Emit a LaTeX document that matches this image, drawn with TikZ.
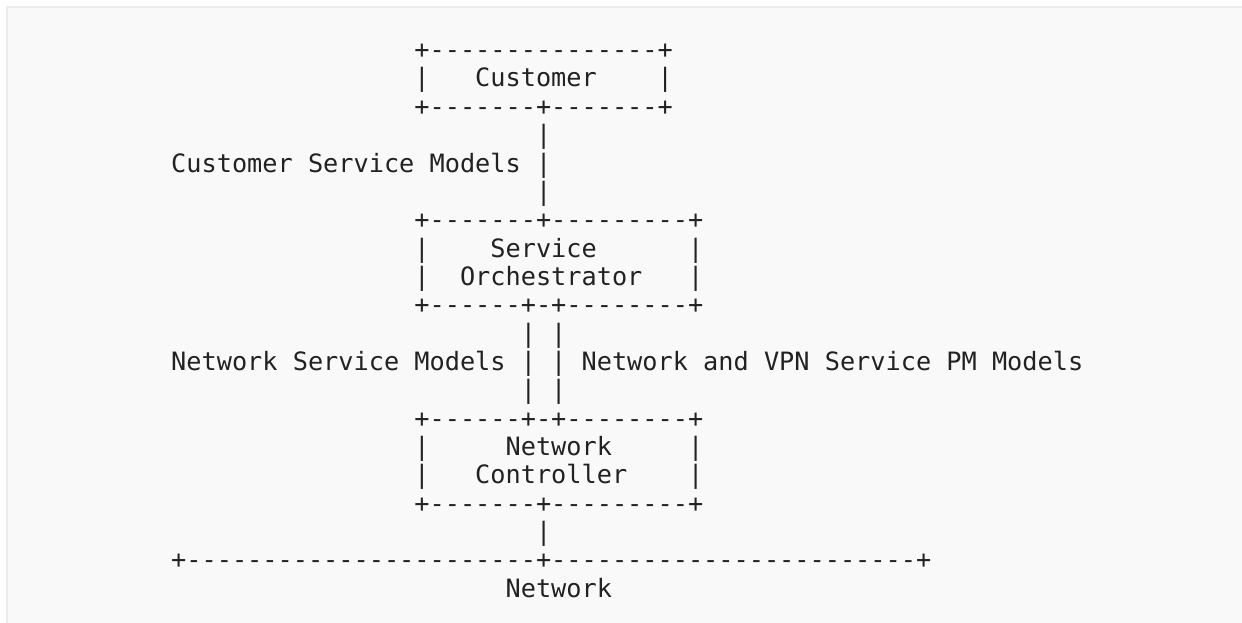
\documentclass[tikz,border=0pt]{standalone}
\usepackage{fontspec}
\setmonofont{DejaVu Sans Mono}[Ligatures=TeXOff]
\definecolor{prebg}{HTML}{F9F9F9}
\definecolor{preborder}{HTML}{ECECEC}
\definecolor{ink}{HTML}{222222}
\newcommand\asciiseg[4]{\node[ascii] (#1) at ({171.2+15.2*#2},{87+28.35*(#3-2)}) {#4};}
\begin{document}
\begin{tikzpicture}[x=1pt,y=-1pt,
  ascii/.style={anchor=base west, inner sep=0pt, outer sep=0pt, text=ink,
    font=\ttfamily\fontsize{25.25}{28}\selectfont}]
\useasboundingbox (0,0) rectangle (1242,623);
\fill[white] (0,0) rectangle (1242,623);
\fill[prebg] (6,6) rectangle (1242,623);
\draw[preborder, line width=2pt] (7,623) -- (7,7) -- (1242,7);
% line 1-3: Customer box
\asciiseg{l1}{16}{1}{+---------------+}
\asciiseg{l2a}{16}{2}{|}
\asciiseg{cust}{20}{2}{Customer}
\asciiseg{l2b}{32}{2}{|}
\asciiseg{l3}{16}{3}{+-------+-------+}
% lines 4-6
\asciiseg{l4}{24}{4}{|}
\asciiseg{csm}{0}{5}{Customer Service Models}
\asciiseg{l5}{24}{5}{|}
\asciiseg{l6}{24}{6}{|}
% lines 7-10: Service Orchestrator
\asciiseg{l7}{16}{7}{+-------+---------+}
\asciiseg{l8a}{16}{8}{|}
\asciiseg{serv}{21}{8}{Service}
\asciiseg{l8b}{34}{8}{|}
\asciiseg{l9a}{16}{9}{|}
\asciiseg{orch}{19}{9}{Orchestrator}
\asciiseg{l9b}{34}{9}{|}
\asciiseg{l10}{16}{10}{+------+-+--------+}
% lines 11-13
\asciiseg{l11a}{23}{11}{|}
\asciiseg{l11b}{25}{11}{|}
\asciiseg{nsm}{0}{12}{Network Service Models}
\asciiseg{l12a}{23}{12}{|}
\asciiseg{l12b}{25}{12}{|}
\asciiseg{nvpn}{27}{12}{Network and VPN Service PM Models}
\asciiseg{l13a}{23}{13}{|}
\asciiseg{l13b}{25}{13}{|}
% lines 14-17: Network Controller
\asciiseg{l14}{16}{14}{+------+-+--------+}
\asciiseg{l15a}{16}{15}{|}
\asciiseg{netw}{22}{15}{Network}
\asciiseg{l15b}{34}{15}{|}
\asciiseg{l16a}{16}{16}{|}
\asciiseg{ctrl}{20}{16}{Controller}
\asciiseg{l16b}{34}{16}{|}
\asciiseg{l17}{16}{17}{+-------+---------+}
% lines 18-20: Network
\asciiseg{l18}{24}{18}{|}
\asciiseg{l19}{0}{19}{+-----------------------+------------------------+}
\asciiseg{net}{22}{20}{Network}
\end{tikzpicture}
\end{document}
